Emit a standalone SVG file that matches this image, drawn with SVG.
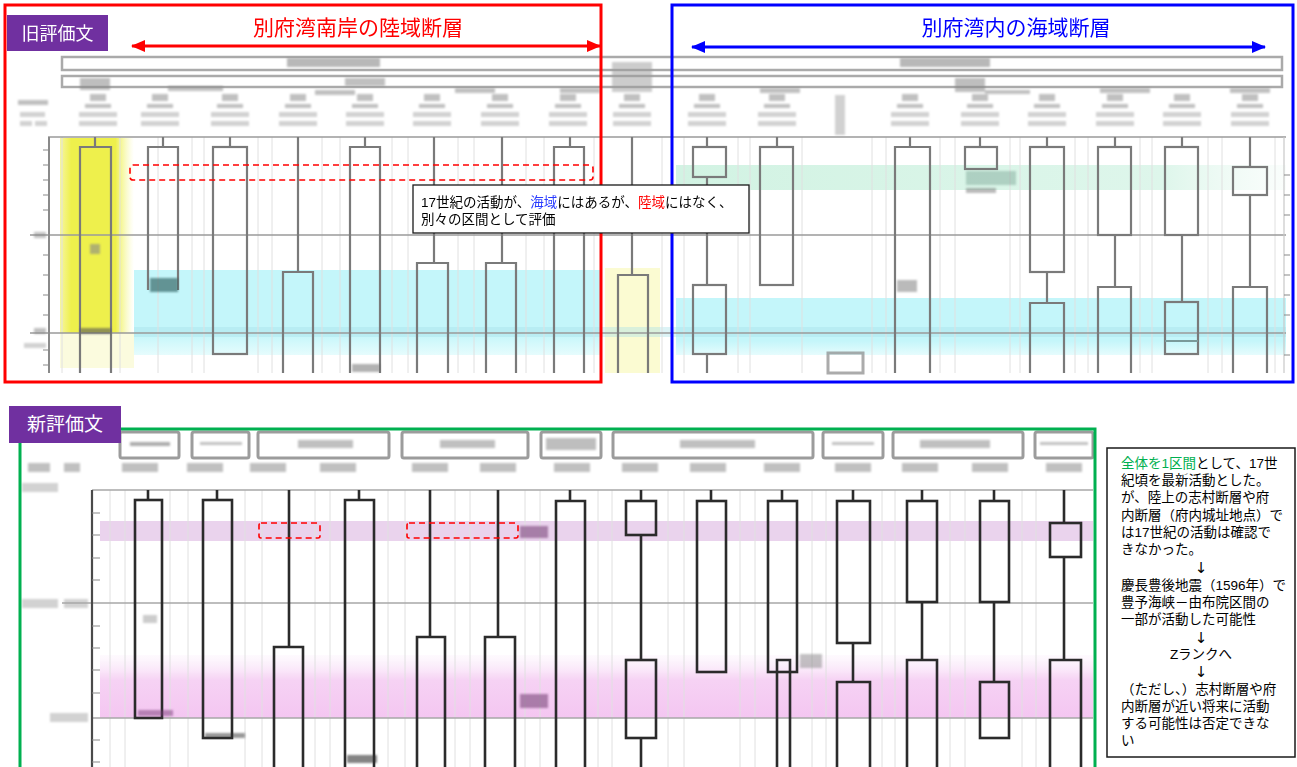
<svg xmlns="http://www.w3.org/2000/svg" xmlns:xlink="http://www.w3.org/1999/xlink" width="1297" height="767" viewBox="0 0 1297 767">
<defs>
<style>
.tag{fill:#7030a0}
.tagt{fill:#fff;font-family:"Noto Sans CJK JP",sans-serif;text-anchor:middle}
.ttl{font-family:"Noto Sans CJK JP",sans-serif;font-size:21px;text-anchor:middle}
.jp{font-family:"Liberation Sans","Noto Sans CJK JP",sans-serif;fill:#000}
.arw{font-family:"DejaVu Sans",sans-serif;font-size:15px;text-anchor:middle;fill:#000}
.grid{stroke:#9a9a9a;stroke-width:1.6;fill:none}
.ngrid{stroke:#a8a8a8;stroke-width:1.6;fill:none}
.oc{fill:none;stroke:#7a7a7a;stroke-width:2.2}
.nc{fill:none;stroke:#2b2b2b;stroke-width:2.6}
.faint{stroke:#e0e0e0;stroke-width:1;fill:none}
.tick{stroke:#8a8a8a;stroke-width:1.2}
.hdr{fill:none;stroke:#aaaaaa;stroke-width:2.5}
.hbox{fill:#fff;stroke:#9c9c9c;stroke-width:3}
.dash{fill:none;stroke:#ff0000;stroke-width:1.6;stroke-dasharray:6 4}
.b1{fill:#8c8c8c;opacity:.55}
.b2{fill:#a5a5a5;opacity:.5}
</style>
<filter id="bl" x="-20%" y="-50%" width="140%" height="200%"><feGaussianBlur stdDeviation="0.9"/></filter>
<linearGradient id="yg" x1="0" y1="0" x2="1" y2="0">
<stop offset="0" stop-color="#f0f060" stop-opacity=".6"/>
<stop offset=".15" stop-color="#eef04c"/>
<stop offset=".75" stop-color="#eef04c"/>
<stop offset="1" stop-color="#f6f8a0" stop-opacity="0"/>
</linearGradient>
<linearGradient id="cg" x1="0" y1="0" x2="0" y2="1">
<stop offset="0" stop-color="#c4f6fa"/>
<stop offset=".75" stop-color="#c4f6fa"/>
<stop offset="1" stop-color="#e6fcfd"/>
</linearGradient>
<linearGradient id="gg" x1="0" y1="0" x2="1" y2="0">
<stop offset="0" stop-color="#d2f3e3"/>
<stop offset=".8" stop-color="#def6eb"/>
<stop offset="1" stop-color="#eefaf4" stop-opacity=".3"/>
</linearGradient>
<linearGradient id="pg" x1="0" y1="0" x2="0" y2="1">
<stop offset="0" stop-color="#fbeefb" stop-opacity=".3"/>
<stop offset=".4" stop-color="#f6d2f4"/>
<stop offset="1" stop-color="#f4c6f1"/>
</linearGradient>
<marker id="ar" viewBox="0 0 14 12" refX="13" refY="6" markerWidth="14" markerHeight="12" markerUnits="userSpaceOnUse" orient="auto-start-reverse"><path d="M0,0 L14,6 L0,12 z" fill="#ff0000"/></marker>
<marker id="ab" viewBox="0 0 14 12" refX="13" refY="6" markerWidth="14" markerHeight="12" markerUnits="userSpaceOnUse" orient="auto-start-reverse"><path d="M0,0 L14,6 L0,12 z" fill="#0000ff"/></marker>
<g id="olab" filter="url(#bl)">
<rect x="-8" y="94" width="16" height="7" class="b1"/>
<rect x="-13" y="104" width="26" height="4" class="b1"/>
<rect x="-19" y="112" width="38" height="5" class="b2"/>
<rect x="-19" y="121" width="38" height="5" class="b2"/>
</g>
<g id="nlab" filter="url(#bl)"><rect x="-18" y="463" width="36" height="9" class="b1"/></g>
</defs>

<rect width="1297" height="767" fill="#fff"/>

<!-- ================= OLD EVALUATION (top) ================= -->
<g id="old-chart">
<g id="old-header">
<rect x="62" y="57" width="1220" height="13" class="hdr"/>
<rect x="62" y="76" width="1220" height="11" class="hdr"/>
<g filter="url(#bl)">
<rect x="287" y="58" width="93" height="9" fill="#888" opacity=".6"/>
<rect x="900" y="58" width="90" height="9" fill="#888" opacity=".6"/>
<rect x="612" y="62" width="40" height="30" fill="#999" opacity=".5"/>
<rect x="80" y="78" width="30" height="12" fill="#888" opacity=".55"/>
<rect x="168" y="86" width="55" height="5" class="b1"/>
<rect x="345" y="78" width="40" height="8" class="b1"/>
<rect x="315" y="90" width="40" height="5" class="b1"/>
<rect x="455" y="88" width="40" height="5" class="b1"/>
<rect x="560" y="88" width="40" height="5" class="b1"/>
<rect x="760" y="88" width="40" height="5" class="b1"/>
<rect x="955" y="78" width="30" height="14" fill="#888" opacity=".55"/>
<rect x="985" y="90" width="45" height="4" class="b1"/>
<rect x="1100" y="88" width="50" height="5" class="b1"/>
<rect x="1230" y="88" width="40" height="5" class="b1"/>
<rect x="18" y="100" width="30" height="5" class="b1"/>
<rect x="20" y="112" width="25" height="5" class="b2"/>
<rect x="20" y="121" width="12" height="5" class="b2"/>
<rect x="35" y="121" width="12" height="5" class="b2"/>
<rect x="835" y="95" width="10" height="40" fill="#999" opacity=".45"/>
</g>
<use href="#olab" x="98"/>
<use href="#olab" x="160"/>
<use href="#olab" x="230"/>
<use href="#olab" x="298"/>
<use href="#olab" x="365"/>
<use href="#olab" x="432"/>
<use href="#olab" x="500"/>
<use href="#olab" x="568"/>
<use href="#olab" x="632"/>
<use href="#olab" x="707"/>
<use href="#olab" x="777"/>
<use href="#olab" x="910"/>
<use href="#olab" x="980"/>
<use href="#olab" x="1047"/>
<use href="#olab" x="1115"/>
<use href="#olab" x="1182"/>
<use href="#olab" x="1250"/>
</g>

<rect x="60" y="138" width="74" height="195" fill="url(#yg)"/>
<rect x="60" y="333" width="74" height="35" fill="#fafad0" opacity=".7"/>
<rect x="605" y="268" width="55" height="105" fill="#fbfbd2"/>
<rect x="134" y="270" width="466" height="85" fill="url(#cg)"/>
<rect x="676" y="298" width="610" height="57" fill="url(#cg)"/>
<rect x="676" y="165" width="610" height="25" fill="url(#gg)"/>
<rect x="134" y="327" width="1152" height="10" fill="#a8e2e8" opacity=".4"/>

<path class="faint" d="M62 137V373M120 137V373M158 137V373M192 137V373M204 137V373M258 137V373M272 137V373M322 137V373M340 137V373M392 137V373M408 137V373M458 137V373M474 137V373M526 137V373M544 137V373M594 137V373M662 137V373M684 137V373M738 137V373M750 137V373M802 137V373M872 137V373M886 137V373M940 137V373M955 137V373M1010 137V373M1020 137V373M1075 137V373M1088 137V373M1140 137V373M1152 137V373M1208 137V373M1222 137V373M1275 137V373"/>

<path class="grid" d="M48 137H1286M30 235H1286M30 333H1286"/>
<path d="M49 137V373" stroke="#8a8a8a" stroke-width="2"/>
<path d="M1284 137V373" stroke="#c8c8c8" stroke-width="1.2"/>
<path class="tick" d="M43 150H49M43 165H49M43 180H49M43 195H49M43 210H49M43 255H49M43 275H49M43 295H49M43 315H49M43 350H49M43 365H49"/>
<path class="tick" d="M1284 175H1290M1284 195H1290M1284 215H1290M1284 255H1290M1284 275H1290M1284 295H1290M1284 315H1290M1284 355H1290"/>
<g filter="url(#bl)">
<rect x="34" y="232" width="12" height="6" class="b1"/>
<rect x="34" y="328" width="12" height="6" class="b1"/>
<rect x="24" y="343" width="22" height="5" class="b2"/>
</g>
</g>

<g id="old-columns">
<g id="oc1"><path class="oc" d="M95 137V147"/><path class="oc" d="M80 373V147H111V373"/><rect x="90" y="244" width="10" height="10" fill="#888" opacity=".6" filter="url(#bl)"/><rect x="80" y="328" width="31" height="6" fill="#555" opacity=".6" filter="url(#bl)"/></g>
<g id="oc2"><path class="oc" d="M163 137V147M148 290V147H178V290"/><rect x="150" y="278" width="28" height="14" fill="#2f5f5f" opacity=".65" filter="url(#bl)"/></g>
<g id="oc3"><path class="oc" d="M230 137V147"/><rect class="oc" x="213" y="147" width="34" height="207"/></g>
<g id="oc4"><path class="oc" d="M298 137V272M283 373V272H313V373"/></g>
<g id="oc5"><path class="oc" d="M365 137V147M350 373V147H380V373"/><rect x="352" y="364" width="28" height="8" fill="#666" opacity=".5" filter="url(#bl)"/></g>
<g id="oc6"><path class="oc" d="M434 137V263M417 373V263H448V373"/></g>
<g id="oc7"><path class="oc" d="M502 137V263M486 373V263H516V373"/></g>
<g id="oc8"><path class="oc" d="M570 137V147M554 373V147H584V373"/></g>
<g id="oc9"><path class="oc" d="M632 137V275M618 373V275H648V373"/></g>
<g id="oc10"><path class="oc" d="M707 137V147M707 177V285M707 354V373"/><rect class="oc" x="693" y="147" width="33" height="30"/><rect class="oc" x="693" y="285" width="33" height="69"/></g>
<g id="oc11"><path class="oc" d="M777 137V147"/><rect class="oc" x="760" y="147" width="33" height="138"/></g>
<g id="oc12"><rect x="828" y="353" width="35" height="20" fill="none" stroke="#888" stroke-width="3" opacity=".7"/></g>
<g id="oc13"><path class="oc" d="M910 137V147M895 373V147H930V373"/><rect x="897" y="280" width="20" height="12" fill="#777" opacity=".5" filter="url(#bl)"/></g>
<g id="oc14"><path class="oc" d="M980 137V147"/><rect class="oc" x="965" y="147" width="32" height="22"/><rect x="966" y="171" width="50" height="14" fill="#4a7a6a" opacity=".3" filter="url(#bl)"/><rect x="966" y="188" width="30" height="5" fill="#666" opacity=".45" filter="url(#bl)"/></g>
<g id="oc15"><path class="oc" d="M1047 137V147M1047 272V303"/><rect class="oc" x="1030" y="147" width="34" height="125"/><path class="oc" d="M1030 373V303H1064V373"/></g>
<g id="oc16"><path class="oc" d="M1115 137V147M1115 235V287"/><rect class="oc" x="1098" y="147" width="33" height="88"/><path class="oc" d="M1098 373V287H1131V373"/></g>
<g id="oc17"><path class="oc" d="M1182 137V147M1182 235V302"/><rect class="oc" x="1165" y="147" width="33" height="88"/><rect class="oc" x="1165" y="302" width="33" height="52"/><path d="M1165 341H1198" stroke="#7a9a9a" stroke-width="2"/></g>
<g id="oc18"><path class="oc" d="M1250 137V167M1250 195V287"/><rect class="oc" x="1233" y="167" width="34" height="28"/><path class="oc" d="M1233 373V287H1267V373"/></g>
<rect class="dash" x="130" y="165" width="463" height="15" rx="3"/>
</g>

<g id="old-frames">
<rect x="5" y="5" width="596" height="377" fill="none" stroke="#ff0000" stroke-width="3"/>
<rect x="672" y="5" width="621" height="377" fill="none" stroke="#0000ff" stroke-width="3"/>
</g>

<g id="old-tag">
<rect class="tag" x="7" y="15" width="101" height="36"/>
<text class="tagt" x="57.5" y="40" font-size="18">旧評価文</text>
</g>
<g id="land-title"><text class="ttl" x="358" y="35" fill="#ff0000">別府湾南岸の陸域断層</text></g>
<g id="sea-title"><text class="ttl" x="1016" y="35" fill="#0000ff">別府湾内の海域断層</text></g>

<g id="callout">
<rect x="413" y="185" width="336" height="48" fill="#fff" stroke="#1a1a1a" stroke-width="1.3"/>
<text class="jp" x="421" y="207" font-size="13.5">17世紀の活動が、<tspan fill="#2a3cff">海域</tspan>にはあるが、<tspan fill="#ff0000">陸域</tspan>にはなく、</text>
<text class="jp" x="421" y="224" font-size="13.5">別々の区間として評価</text>
</g>

<!-- ================= NEW EVALUATION (bottom) ================= -->
<g id="new-chart">
<g id="new-header">
<rect class="hbox" x="120" y="432" width="59" height="26" rx="2"/>
<rect class="hbox" x="192" y="432" width="57" height="26" rx="2"/>
<rect class="hbox" x="258" y="432" width="131" height="26" rx="2"/>
<rect class="hbox" x="402" y="432" width="126" height="26" rx="2"/>
<rect class="hbox" x="541" y="432" width="60" height="26" rx="2"/>
<rect class="hbox" x="613" y="432" width="200" height="26" rx="2"/>
<rect class="hbox" x="823" y="432" width="60" height="26" rx="2"/>
<rect class="hbox" x="893" y="432" width="130" height="26" rx="2"/>
<rect class="hbox" x="1035" y="432" width="58" height="26" rx="2"/>
<g filter="url(#bl)">
<rect x="130" y="442" width="40" height="4" fill="#777" opacity=".6"/>
<rect x="200" y="442" width="42" height="3" fill="#999" opacity=".6"/>
<rect x="298" y="440" width="55" height="8" class="b1"/>
<rect x="440" y="440" width="55" height="8" class="b1"/>
<rect x="546" y="438" width="50" height="12" fill="#888" opacity=".55"/>
<rect x="680" y="440" width="75" height="8" class="b1"/>
<rect x="832" y="442" width="42" height="3" fill="#999" opacity=".6"/>
<rect x="920" y="440" width="70" height="8" class="b1"/>
<rect x="1040" y="442" width="48" height="3" fill="#999" opacity=".6"/>
<rect x="28" y="463" width="22" height="9" class="b1"/>
<rect x="64" y="463" width="16" height="9" class="b1"/>
<rect x="22" y="483" width="36" height="9" class="b2"/>
<rect x="22" y="599" width="36" height="9" class="b2"/>
<rect x="64" y="599" width="24" height="9" class="b2"/>
<rect x="50" y="713" width="38" height="9" class="b2"/>
</g>
<use href="#nlab" x="140"/>
<use href="#nlab" x="205"/>
<use href="#nlab" x="268"/>
<use href="#nlab" x="338"/>
<use href="#nlab" x="430"/>
<use href="#nlab" x="498"/>
<use href="#nlab" x="572"/>
<use href="#nlab" x="640"/>
<use href="#nlab" x="708"/>
<use href="#nlab" x="782"/>
<use href="#nlab" x="853"/>
<use href="#nlab" x="920"/>
<use href="#nlab" x="990"/>
<use href="#nlab" x="1064"/>
</g>

<rect x="100" y="521" width="993" height="20" fill="#e6cbea" opacity=".85"/>
<rect x="100" y="655" width="993" height="63" fill="url(#pg)"/>

<path class="faint" d="M110 490V767M125 490V767M170 490V767M188 490V767M245 490V767M262 490V767M315 490V767M330 490V767M388 490V767M405 490V767M455 490V767M470 490V767M525 490V767M540 490V767M598 490V767M612 490V767M668 490V767M684 490V767M740 490V767M755 490V767M812 490V767M826 490V767M882 490V767M895 490V767M950 490V767M965 490V767M1022 490V767M1036 490V767"/>

<path class="ngrid" d="M92 490H1093M62 603H1093M92 718H1093"/>
<path d="M92 490V767" stroke="#4a4a4a" stroke-width="2.2"/>
<path class="tick" d="M92 513H100M92 535H100M92 558H100M92 580H100M92 626H100M92 648H100M92 670H100M92 693H100M92 740H100M92 762H100"/>
</g>

<g id="new-columns">
<g id="nc1"><path class="nc" d="M148 490V500"/><rect class="nc" x="135" y="500" width="27" height="218"/><rect x="138" y="710" width="35" height="6" fill="#7a3a7a" opacity=".5" filter="url(#bl)"/></g>
<g id="nc2"><path class="nc" d="M217 490V500"/><rect class="nc" x="203" y="500" width="29" height="238"/><rect x="205" y="733" width="40" height="5" fill="#333" opacity=".5" filter="url(#bl)"/></g>
<g id="nc3"><path class="nc" d="M289 490V647M274 767V647H303V767"/></g>
<g id="nc4"><path class="nc" d="M359 490V500M345 767V500H374V767"/><rect x="347" y="755" width="30" height="8" fill="#333" opacity=".6" filter="url(#bl)"/></g>
<g id="nc5"><path class="nc" d="M430 490V637M417 767V637H445V767"/></g>
<g id="nc6"><path class="nc" d="M498 490V637M485 767V637H515V767"/></g>
<g id="nc7"><path class="nc" d="M570 490V501M556 767V501H585V767"/></g>
<g id="nc8"><path class="nc" d="M641 490V501M641 535V660M641 738V767"/><rect class="nc" x="626" y="501" width="30" height="34"/><rect class="nc" x="626" y="660" width="30" height="78"/></g>
<g id="nc9"><path class="nc" d="M711 490V501"/><rect class="nc" x="697" y="501" width="29" height="171"/></g>
<g id="nc10"><path class="nc" d="M782 490V501"/><rect class="nc" x="768" y="501" width="29" height="171"/><path class="nc" d="M777 767V660H790V767"/><rect x="800" y="654" width="22" height="14" fill="#888" opacity=".5" filter="url(#bl)"/></g>
<g id="nc11"><path class="nc" d="M853 490V501M853 643V682"/><rect class="nc" x="837" y="501" width="33" height="142"/><path class="nc" d="M837 767V682H870V767"/></g>
<g id="nc12"><path class="nc" d="M922 490V501M922 602V660"/><rect class="nc" x="907" y="501" width="30" height="101"/><path class="nc" d="M907 767V660H937V767"/></g>
<g id="nc13"><path class="nc" d="M994 490V501M994 602V682"/><rect class="nc" x="980" y="501" width="29" height="101"/><rect class="nc" x="980" y="682" width="29" height="56"/></g>
<g id="nc14"><path class="nc" d="M1064 490V523M1064 557V660"/><rect class="nc" x="1050" y="523" width="31" height="34"/><path class="nc" d="M1050 767V660H1081V767"/></g>
<g filter="url(#bl)">
<rect x="520" y="526" width="28" height="12" fill="#8a5a8a" opacity=".7"/>
<rect x="520" y="694" width="28" height="14" fill="#8a5a8a" opacity=".7"/>
<rect x="143" y="615" width="14" height="8" fill="#999" opacity=".5"/>
</g>
<rect class="dash" x="259" y="523" width="61" height="15" rx="2"/>
<rect class="dash" x="407" y="523" width="111" height="15" rx="2"/>
</g>

<g id="new-frame">
<path d="M20 780V429H1095V780" fill="none" stroke="#00b050" stroke-width="3"/>
</g>
<g id="new-tag">
<rect class="tag" x="9" y="406" width="112" height="37"/>
<text class="tagt" x="65" y="431" font-size="19">新評価文</text>
</g>

<g id="note">
<rect x="1107" y="448" width="188" height="309" fill="#fff" stroke="#1a1a1a" stroke-width="1.5"/>
<g class="jp" font-size="13.5">
<text x="1121" y="468"><tspan fill="#00b050">全体を1区間</tspan>として、17世</text>
<text x="1121" y="485">紀頃を最新活動とした。</text>
<text x="1121" y="502">が、陸上の志村断層や府</text>
<text x="1121" y="520">内断層（府内城址地点）で</text>
<text x="1121" y="537">は17世紀の活動は確認で</text>
<text x="1121" y="554">きなかった。</text>
<text x="1121" y="590">慶長豊後地震（1596年）で</text>
<text x="1121" y="607">豊予海峡－由布院区間の</text>
<text x="1121" y="624">一部が活動した可能性</text>
<text x="1201" y="659" text-anchor="middle">Zランクへ</text>
<text x="1121" y="694">（ただし、）志村断層や府</text>
<text x="1121" y="711">内断層が近い将来に活動</text>
<text x="1121" y="728">する可能性は否定できな</text>
<text x="1121" y="745">い</text>
</g>
<text class="arw" x="1201" y="573">↓</text>
<text class="arw" x="1201" y="643">↓</text>
<text class="arw" x="1201" y="677">↓</text>
</g>

<g id="connectors">
<path d="M132 46H600" stroke="#ff0000" stroke-width="3" fill="none" marker-start="url(#ar)" marker-end="url(#ar)"/>
<path d="M692 47H1265" stroke="#0000ff" stroke-width="3" fill="none" marker-start="url(#ab)" marker-end="url(#ab)"/>
</g>
</svg>
